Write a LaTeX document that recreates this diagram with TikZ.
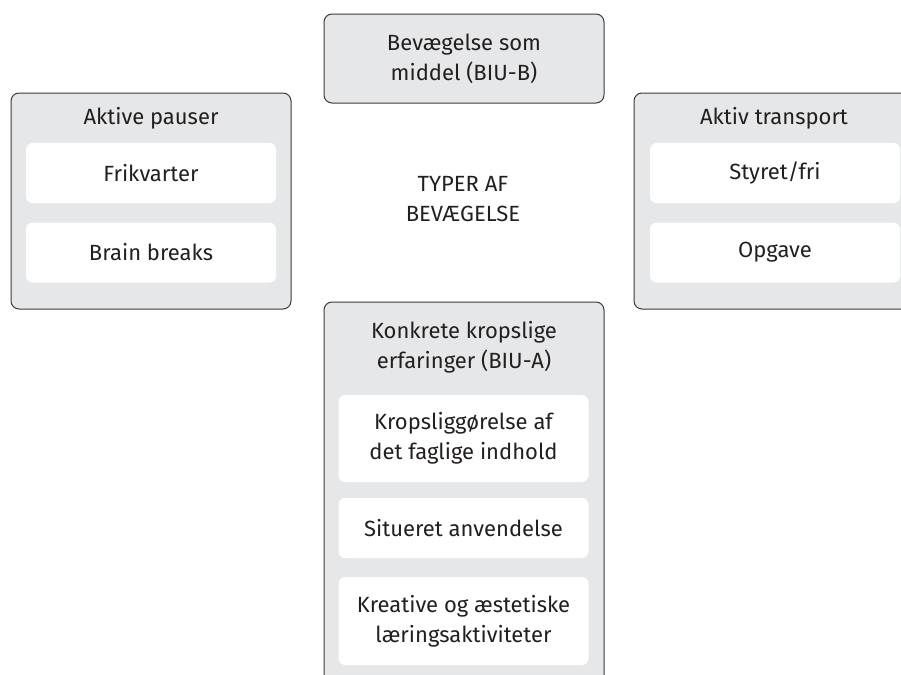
\documentclass[tikz,border=0pt]{standalone}
\usepackage{fontspec}
\setmainfont{Fira Sans}
\usetikzlibrary{positioning}
\definecolor{GroupFill}{HTML}{E6E7E8}
\definecolor{GroupEdge}{HTML}{3A3A3A}
\definecolor{LabelInk}{HTML}{231F20}

\begin{document}
\begin{tikzpicture}[
  x=0.75pt,y=-0.75pt,
  every node/.style={font=\fontsize{16.5}{22.5}\selectfont,text=LabelInk},
  groupbox/.style={draw=GroupEdge,fill=GroupFill,rounded corners=6pt,
    line width=0.75pt,minimum width=210pt,inner sep=0pt},
  itembox/.style={fill=white,rounded corners=5pt,minimum width=187.5pt,
    minimum height=45pt,align=center,inner sep=0pt},
  titletext/.style={align=center,inner sep=0pt}
]
  \useasboundingbox (0,0) rectangle (901,675);
  \clip (0,0) rectangle (901,675);

  % top group
  \node[groupbox,minimum height=66.75pt,align=center] (means) at (464,58.5)
    {Bevægelse som\\middel (BIU-B)};

  % left group
  \node[groupbox,minimum height=162pt] (pauses) at (151,201) {};
  \node[titletext] (pausestitle) at (151,118) {Aktive pauser};
  \node[itembox] (recess) at (151,173) {Frikvarter};
  \node[itembox] (brainbreaks) at (151,252.5) {Brain breaks};

  % right group
  \node[groupbox,minimum height=162pt] (transport) at (774,201) {};
  \node[titletext] (transporttitle) at (774,118) {Aktiv transport};
  \node[itembox] (guided) at (775,173) {Styret/fri};
  \node[itembox] (task) at (775,252.5) {Opgave};

  % bottom group
  \node[groupbox,minimum height=300pt] (bodily) at (464,502) {};
  \node[titletext] (bodilytitle) at (464,347.5)
    {Konkrete kropslige\\erfaringer (BIU-A)};
  \node[itembox,minimum height=65.25pt] (embody) at (463.5,438.5)
    {Kropsliggørelse af\\det faglige indhold};
  \node[itembox] (situated) at (463.5,528) {Situeret anvendelse};
  \node[itembox,minimum height=66pt] (creative) at (463.5,621)
    {Kreative og æstetiske\\læringsaktiviteter};

  % centre label
  \node[titletext] (types) at (463,199) {TYPER AF\\BEVÆGELSE};
\end{tikzpicture}
\end{document}
